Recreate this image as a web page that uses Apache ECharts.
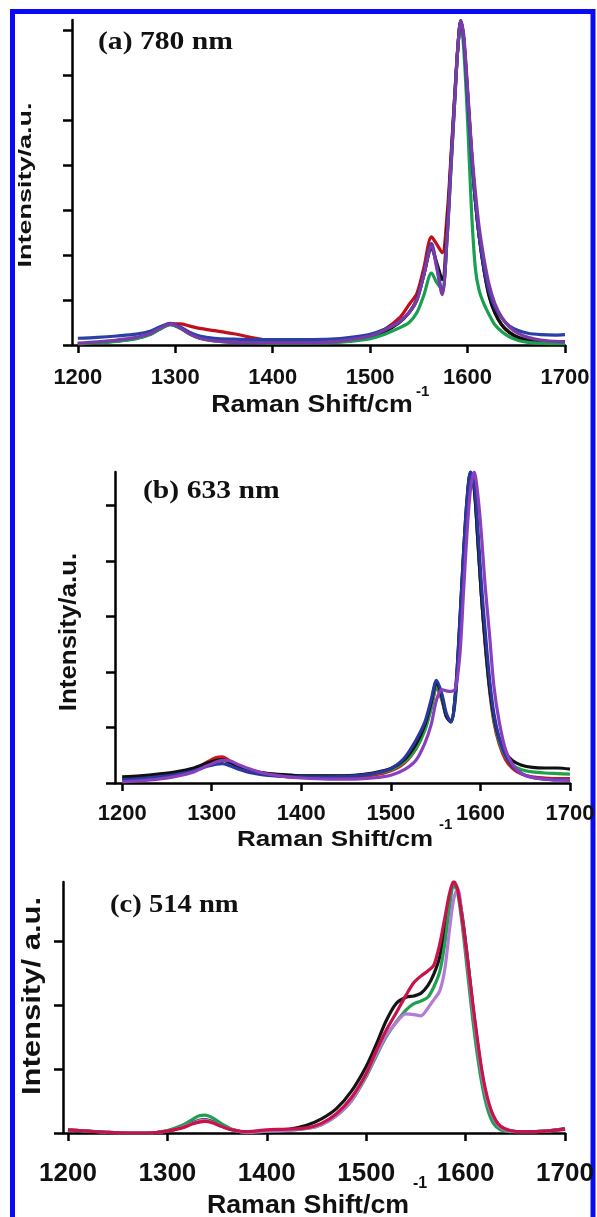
<!DOCTYPE html>
<html>
<head>
<meta charset="utf-8">
<script src="https://cdn.jsdelivr.net/npm/echarts@6/dist/echarts.min.js"></script>
<style>
  html, body { margin: 0; padding: 0; background: #fff; }
  #chart { width: 597px; height: 1217px; }
</style>
</head>
<body>
<div id="chart"></div>
<script>
// tick labels shared by all three panels
const xTicks = [1200, 1300, 1400, 1500, 1600, 1700];

// (a) 780 nm
const aX = [1200, 1220, 1240, 1260, 1275, 1285, 1295, 1305, 1315, 1325, 1340, 1360, 1380, 1400, 1430, 1460, 1480, 1500, 1515, 1530, 1540, 1548, 1555, 1563, 1568, 1574, 1579, 1583, 1587, 1590, 1593, 1596, 1600, 1604, 1608, 1612, 1617, 1622, 1628, 1635, 1643, 1652, 1662, 1675, 1690, 1700];
const aRed = [0.02, 0.05, 0.09, 0.15, 0.25, 0.37, 0.47, 0.47, 0.42, 0.37, 0.32, 0.25, 0.16, 0.09, 0.05, 0.06, 0.1, 0.2, 0.35, 0.6, 0.9, 1.15, 1.7, 2.4, 2.25, 2.05, 2.9, 4.2, 5.6, 6.6, 7.2, 6.8, 5.6, 4.3, 3.2, 2.4, 1.65, 1.1, 0.72, 0.45, 0.27, 0.16, 0.1, 0.06, 0.05, 0.05];
const aBlack = [0.03, 0.05, 0.09, 0.15, 0.25, 0.37, 0.46, 0.38, 0.25, 0.16, 0.1, 0.06, 0.05, 0.04, 0.04, 0.06, 0.1, 0.18, 0.3, 0.5, 0.72, 1.02, 1.55, 2.15, 1.85, 1.45, 2.6, 4.1, 5.6, 6.6, 7.2, 6.8, 5.6, 4.3, 3.2, 2.4, 1.65, 1.1, 0.72, 0.45, 0.28, 0.17, 0.11, 0.08, 0.07, 0.07];
const aGreen = [0.03, 0.05, 0.08, 0.14, 0.24, 0.36, 0.45, 0.37, 0.24, 0.15, 0.09, 0.06, 0.05, 0.04, 0.04, 0.05, 0.08, 0.14, 0.24, 0.38, 0.5, 0.72, 1.1, 1.6, 1.4, 1.25, 2.4, 3.9, 5.5, 6.6, 7.2, 6.6, 5.0, 3.0, 1.7, 1.2, 0.9, 0.68, 0.45, 0.3, 0.18, 0.1, 0.06, 0.04, 0.03, 0.03];
const aBlue = [0.15, 0.17, 0.2, 0.24, 0.31, 0.41, 0.48, 0.4, 0.28, 0.2, 0.15, 0.13, 0.12, 0.12, 0.12, 0.13, 0.17, 0.24, 0.35, 0.52, 0.72, 1.0, 1.55, 2.25, 1.8, 1.15, 2.4, 4.0, 5.5, 6.6, 7.2, 6.8, 5.5, 4.2, 3.2, 2.4, 1.7, 1.2, 0.85, 0.6, 0.42, 0.32, 0.26, 0.23, 0.22, 0.23];
const aPurple = [0.04, 0.07, 0.11, 0.17, 0.26, 0.38, 0.47, 0.38, 0.24, 0.15, 0.09, 0.06, 0.05, 0.05, 0.05, 0.07, 0.12, 0.2, 0.33, 0.52, 0.72, 1.0, 1.55, 2.2, 1.75, 1.12, 2.4, 4.0, 5.5, 6.6, 7.2, 6.9, 5.7, 4.4, 3.4, 2.6, 1.9, 1.35, 0.92, 0.62, 0.4, 0.26, 0.17, 0.11, 0.08, 0.07];

// (b) 633 nm
const bX = [1200, 1220, 1240, 1260, 1280, 1295, 1305, 1312, 1320, 1330, 1345, 1360, 1380, 1400, 1430, 1460, 1480, 1500, 1515, 1528, 1538, 1545, 1551, 1557, 1562, 1567, 1572, 1577, 1581, 1585, 1589, 1593, 1597, 1601, 1605, 1610, 1615, 1621, 1628, 1636, 1646, 1658, 1672, 1686, 1700];
const bRed = [0.05, 0.07, 0.1, 0.15, 0.24, 0.38, 0.46, 0.47, 0.4, 0.31, 0.22, 0.16, 0.12, 0.1, 0.1, 0.11, 0.14, 0.22, 0.36, 0.62, 0.98, 1.35, 1.7, 1.5, 1.2, 1.12, 1.55, 2.8, 4.0, 5.0, 5.55, 5.35, 4.4, 3.4, 2.55, 1.7, 1.1, 0.7, 0.42, 0.26, 0.16, 0.11, 0.09, 0.08, 0.08];
const bGreen = [0.08, 0.1, 0.13, 0.18, 0.26, 0.35, 0.4, 0.41, 0.38, 0.31, 0.22, 0.17, 0.14, 0.13, 0.13, 0.14, 0.17, 0.24, 0.38, 0.62, 0.95, 1.35, 1.75, 1.5, 1.2, 1.1, 1.5, 2.8, 4.0, 5.0, 5.6, 5.35, 4.4, 3.4, 2.6, 1.75, 1.15, 0.75, 0.48, 0.32, 0.24, 0.2, 0.18, 0.17, 0.16];
const bBlack = [0.11, 0.13, 0.16, 0.2, 0.27, 0.36, 0.41, 0.42, 0.37, 0.3, 0.22, 0.18, 0.15, 0.13, 0.13, 0.14, 0.18, 0.26, 0.42, 0.7, 1.05, 1.45, 1.82, 1.55, 1.2, 1.1, 1.6, 2.9, 4.1, 5.1, 5.6, 5.3, 4.4, 3.4, 2.6, 1.75, 1.2, 0.8, 0.55, 0.4, 0.32, 0.28, 0.27, 0.27, 0.25];
const bBlue = [0.06, 0.08, 0.11, 0.15, 0.22, 0.3, 0.34, 0.35, 0.31, 0.25, 0.18, 0.14, 0.12, 0.11, 0.11, 0.13, 0.17, 0.26, 0.45, 0.77, 1.1, 1.5, 1.85, 1.6, 1.25, 1.1, 1.6, 2.9, 4.1, 5.1, 5.6, 5.4, 4.6, 3.6, 2.8, 1.9, 1.25, 0.8, 0.5, 0.3, 0.17, 0.1, 0.07, 0.06, 0.05];
const bPurple = [0.02, 0.04, 0.07, 0.12, 0.2, 0.31, 0.38, 0.41, 0.4, 0.33, 0.24, 0.17, 0.12, 0.09, 0.07, 0.07, 0.09, 0.14, 0.24, 0.41, 0.72, 1.05, 1.5, 1.68, 1.66, 1.65, 1.7, 2.3, 3.4, 4.5, 5.3, 5.6, 5.2, 4.5, 3.6, 2.7, 1.75, 1.1, 0.6, 0.33, 0.17, 0.1, 0.07, 0.05, 0.05];

// (c) 514 nm
const cX = [1200, 1220, 1240, 1260, 1280, 1300, 1315, 1325, 1332, 1338, 1345, 1355, 1365, 1380, 1400, 1420, 1440, 1455, 1470, 1485, 1500, 1510, 1520, 1530, 1540, 1548, 1555, 1562, 1568, 1574, 1579, 1584, 1588, 1592, 1597, 1602, 1607, 1612, 1617, 1622, 1628, 1635, 1645, 1660, 1680, 1700];
const cBlack = [0.05, 0.03, 0.01, 0.0, 0.0, 0.03, 0.09, 0.16, 0.2, 0.21, 0.18, 0.11, 0.05, 0.01, 0.03, 0.05, 0.12, 0.22, 0.38, 0.65, 1.04, 1.38, 1.75, 2.02, 2.12, 2.14, 2.18, 2.3, 2.48, 2.75, 3.2, 3.65, 3.9, 3.8, 3.35, 2.72, 2.02, 1.4, 0.87, 0.5, 0.24, 0.09, 0.03, 0.02, 0.03, 0.07];
const cGreen = [0.05, 0.03, 0.01, 0.0, 0.0, 0.04, 0.12, 0.21, 0.27, 0.28, 0.24, 0.14, 0.06, 0.01, 0.03, 0.04, 0.07, 0.13, 0.27, 0.5, 0.88, 1.2, 1.5, 1.73, 1.92, 2.02, 2.06, 2.12, 2.28, 2.52, 2.95, 3.55, 3.88, 3.75, 3.2, 2.5, 1.8, 1.2, 0.72, 0.38, 0.15, 0.05, 0.02, 0.02, 0.03, 0.06];
const cPurple = [0.05, 0.03, 0.01, 0.0, 0.0, 0.03, 0.09, 0.15, 0.19, 0.2, 0.17, 0.1, 0.05, 0.01, 0.03, 0.04, 0.07, 0.13, 0.27, 0.5, 0.9, 1.22, 1.52, 1.72, 1.86, 1.85, 1.83, 1.95, 2.08, 2.22, 2.55, 3.2, 3.65, 3.82, 3.3, 2.65, 1.98, 1.38, 0.85, 0.5, 0.24, 0.09, 0.03, 0.02, 0.03, 0.06];
const cRed = [0.05, 0.03, 0.01, 0.0, 0.0, 0.03, 0.08, 0.14, 0.17, 0.18, 0.16, 0.1, 0.05, 0.02, 0.05, 0.06, 0.08, 0.15, 0.3, 0.55, 0.93, 1.28, 1.6, 1.87, 2.15, 2.35, 2.45, 2.53, 2.62, 2.95, 3.35, 3.75, 3.93, 3.8, 3.3, 2.7, 2.05, 1.45, 0.92, 0.55, 0.27, 0.11, 0.04, 0.02, 0.03, 0.06];

const SANS = '"Liberation Sans", Arial, sans-serif';
const SERIF = '"Liberation Serif", "Times New Roman", serif';

function xAxisFor(idx, min, fontSize, margin) {
  return {
    type: 'value', gridIndex: idx, min: min, max: 1700,
    axisLine: { onZero: false, lineStyle: { color: '#000', width: 2.5 } },
    axisTick: { inside: false, length: 8, customValues: xTicks, lineStyle: { color: '#000', width: 2.5 } },
    axisLabel: {
      customValues: xTicks, formatter: v => String(v),
      color: '#111', fontFamily: SANS, fontWeight: 'bold', fontSize: fontSize, margin: margin
    },
    splitLine: { show: false }
  };
}

function yAxisFor(idx, max, n) {
  const ticks = [];
  for (let i = 0; i <= n; i++) ticks.push(i);
  return {
    type: 'value', gridIndex: idx, min: 0, max: max,
    axisLine: { show: true, onZero: false, lineStyle: { color: '#000', width: 2.5 } },
    axisTick: { show: true, inside: false, length: 9, customValues: ticks, lineStyle: { color: '#000', width: 2.5 } },
    axisLabel: { show: false },
    splitLine: { show: false }
  };
}

function line(idx, xs, ys, color) {
  return {
    type: 'line', xAxisIndex: idx, yAxisIndex: idx,
    data: xs.map((x, i) => [x, ys[i]]),
    showSymbol: false, smooth: 0.3, silent: true,
    lineStyle: { color: color, width: 3.2 }, itemStyle: { color: color }
  };
}

function label(text, x, y, font, opts) {
  const o = opts || {};
  return {
    type: 'text', x: x, y: y, rotation: o.rotation || 0, scaleX: o.scaleX || 1, silent: true,
    style: { text: text, font: font, fill: '#111', align: o.align || 'center', verticalAlign: 'middle' }
  };
}

const chart = echarts.init(document.getElementById('chart'), null, { renderer: 'canvas' });

chart.setOption({
  animation: false,
  backgroundColor: '#fff',
  grid: [
    { left: 72, top: 20, width: 493, height: 325, outerBoundsMode: 'none' },
    { left: 115, top: 472, width: 455, height: 311, outerBoundsMode: 'none' },
    { left: 63, top: 882, width: 502, height: 251, outerBoundsMode: 'none' }
  ],
  xAxis: [
    xAxisFor(0, 1194, 22, 22),
    xAxisFor(1, 1192, 22, 20),
    xAxisFor(2, 1195, 26, 28)
  ],
  yAxis: [
    yAxisFor(0, 7.22, 7),
    yAxisFor(1, 5.6, 5),
    yAxisFor(2, 3.92, 3)
  ],
  series: [
    line(0, aX, aRed, '#c0101a'),
    line(0, aX, aBlack, '#101010'),
    line(0, aX, aGreen, '#18a050'),
    line(0, aX, aBlue, '#2a3fa8'),
    line(0, aX, aPurple, '#7a3aa8'),

    line(1, bX, bRed, '#d01818'),
    line(1, bX, bGreen, '#20a048'),
    line(1, bX, bBlack, '#101010'),
    line(1, bX, bBlue, '#28389e'),
    line(1, bX, bPurple, '#8a3fc0'),

    line(2, cX, cBlack, '#141414'),
    line(2, cX, cGreen, '#1fa050'),
    line(2, cX, cPurple, '#b37ad6'),
    line(2, cX, cRed, '#c8124a')
  ],
  graphic: [
    // blue frame, open at the bottom
    { type: 'polyline', silent: true, shape: { points: [[12.5, 1230], [12.5, 11.5], [593, 11.5], [593, 1230]] },
      style: { stroke: '#0a0af5', lineWidth: 5, fill: null } },

    label('(a) 780 nm', 98, 42, 'bold 26px ' + SERIF, { align: 'left', scaleX: 1.14 }),
    label('(b) 633 nm', 143, 491, 'bold 26px ' + SERIF, { align: 'left', scaleX: 1.14 }),
    label('(c) 514 nm', 110, 905, 'bold 26px ' + SERIF, { align: 'left', scaleX: 1.1 }),

    label('Raman Shift/cm', 312, 406, 'bold 23px ' + SANS, { scaleX: 1.16 }),
    label('-1', 416, 392, 'bold 15px ' + SANS, { align: 'left' }),
    label('Raman Shift/cm', 335, 840, 'bold 22px ' + SANS, { scaleX: 1.18 }),
    label('-1', 439, 825, 'bold 15px ' + SANS, { align: 'left' }),
    label('Raman Shift/cm', 308, 1206, 'bold 25px ' + SANS, { scaleX: 1.07 }),
    label('-1', 413, 1184, 'bold 16px ' + SANS, { align: 'left' }),

    label('Intensity/a.u.', 26, 185, 'bold 18px ' + SANS, { rotation: Math.PI / 2, scaleX: 1.5 }),
    label('Intensity/a.u.', 69, 632, 'bold 24px ' + SANS, { rotation: Math.PI / 2, scaleX: 1.08 }),
    label('Intensity/ a.u.', 33, 996, 'bold 25px ' + SANS, { rotation: Math.PI / 2, scaleX: 1.24 })
  ]
});
</script>
</body>
</html>
